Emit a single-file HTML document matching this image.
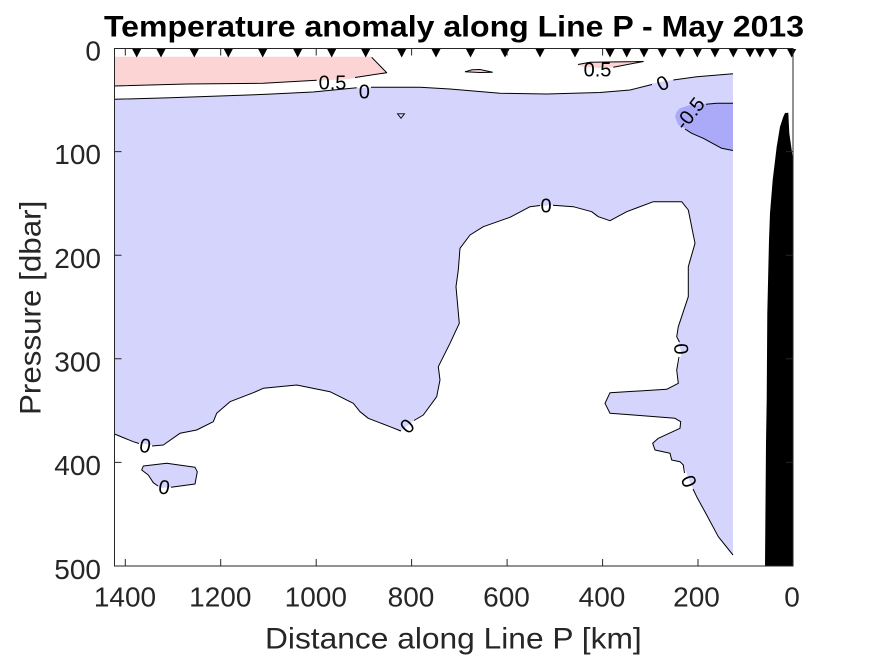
<!DOCTYPE html>
<html>
<head>
<meta charset="utf-8">
<style>
html,body{margin:0;padding:0;background:#fff;}
svg{display:block;}
text{font-family:"Liberation Sans",Arial,sans-serif;}
</style>
</head>
<body>
<svg width="875" height="656" viewBox="0 0 875 656" xmlns="http://www.w3.org/2000/svg">
<rect x="0" y="0" width="875" height="656" fill="#fff"/>

<!-- light blue main region -->
<polygon fill="#d4d4fc" points="114.5,99.3 170,97.8 266.7,94.3 313,92 356.7,87.8 371,87.3 420,87.3 450,89 500,93.3 546.7,94 600,92.5 630,90 653.3,83.3 676.7,79.3 696.7,76.7 733,73.5 733,555 718.3,536.7 706.7,515 696.7,496.7 690,482 683.3,465 680,461.7 671.7,460 670,453.3 655,450 652.7,443.3 658.3,438.3 680,428.3 680.7,421.7 675,418.3 633.3,415 610,413.3 605,403.3 610,392.7 666.7,389.3 678.3,383.3 676.7,370 681.7,353.3 676.7,336.7 678.3,326.7 688.3,296.7 688.3,266.7 695,243.3 688.3,210 681.7,201.7 653.3,201.7 626.7,211.7 610,220.7 598.3,216.7 591.7,211.7 573.3,206.7 553.3,205 530,206.7 510,217.3 483.3,226.7 470,235 460,248.3 458.3,270 456,286.7 459.3,323.3 450,343.3 438.3,366.7 440,380 436.7,396.7 423.3,415 416.7,418.3 400,431.7 390,426.7 368.3,418.3 360,411.7 353.3,403.3 330,391.7 296.7,385 263.3,388.3 253.3,392.7 230,401.7 216.7,413.3 213.3,421.7 196.7,430 180,433.3 163.3,445 156.7,446 133.3,441.7 114.5,434"/>

<!-- island -->
<polygon fill="#d4d4fc" points="141.7,470 143.3,466 166.7,463.3 195,467.3 197.3,471.7 195,484 170,487.3 160,488 153.3,482.7 148.3,475"/>

<!-- dark blue -0.5 region -->
<polygon fill="#aaaaf9" points="675,116.7 676.7,111.7 680,108.3 690,105 706.7,104 716.7,103.3 733,103.3 733,150.5 721.7,148.3 703.3,138.3 691.7,133.3 685,128.3 678.3,125"/>

<!-- pink regions -->
<polygon fill="#fdd4d4" points="114.5,56.7 371.7,56.7 386.7,72.7 346.7,79.3 313.3,80.7 263.3,83.3 170,84 114.5,86"/>
<polygon fill="#fdd4d4" points="576.7,65 590,62.5 643.3,61.5 613.3,67.3 600,68 585,67"/>
<polygon fill="#fdd4d4" stroke="#000" stroke-width="1" points="465,71.8 472,69.8 480,69.5 492.7,72.2 480,72.5"/>

<!-- black bathymetry wedge -->
<polygon fill="#000" points="785,113 788.3,112.7 789.3,133.3 791.7,150 793,160 793,566 765,566 766,443 766.7,400 767.3,313.3 769,240 770,213.3 772.7,180 776.7,146.7 780,126.7 783.3,116.7"/>

<!-- contour lines -->
<g fill="none" stroke="#000" stroke-width="1" stroke-linejoin="round">
<polyline points="114.5,99.3 170,97.8 266.7,94.3 313,92 356.7,87.8"/>
<polyline points="371,87.3 420,87.3 450,89 500,93.3 546.7,94 600,92.5 630,90 652,84.5"/>
<polyline points="673.3,80 696.7,76.7 733,73.8"/>

<polyline points="733,555 718.3,536.7 706.7,515 696.7,496.7 693,489"/>
<polyline points="684.5,473 683.3,465 680,461.7 671.7,460 670,453.3 655,450 652.7,443.3 658.3,438.3 680,428.3 680.7,421.7 675,418.3 633.3,415 610,413.3 605,403.3 610,392.7 666.7,389.3 678.3,383.3 676.7,370 679,357"/>
<polyline points="679.5,342 676.7,336.7 678.3,326.7 688.3,296.7 688.3,266.7 695,243.3 688.3,210 681.7,201.7 653.3,201.7 626.7,211.7 610,220.7 598.3,216.7 591.7,211.7 573.3,206.7 553,205.2"/>
<polyline points="540,205.5 530,206.7 510,217.3 483.3,226.7 470,235 460,248.3 458.3,270 456,286.7 459.3,323.3 450,343.3 438.3,366.7 440,380 436.7,396.7 423.3,415 414,420.5"/>
<polyline points="401,431 390,426.7 368.3,418.3 360,411.7 353.3,403.3 330,391.7 296.7,385 263.3,388.3 253.3,392.7 230,401.7 216.7,413.3 213.3,421.7 196.7,430 180,433.3 163.3,445 152,446"/>
<polyline points="139,443.5 133.3,441.7 114.5,434"/>

<polyline points="158,486 153.3,482.7 148.3,475 141.7,470 143.3,466 166.7,463.3 195,467.3 197.3,471.7 195,484 171,487.2"/>

<polyline points="371.7,57.3 386.7,72.7 355,77.5"/>
<polyline points="316.7,80.2 263.3,83.3 186.7,84 114.5,86"/>

<polyline points="613.3,67.3 643.3,61.5 590,62.3 578,64.5"/>

<polyline points="706,104.2 716.7,103.3 733,103.3"/>
<polyline points="685,129 691.7,133.3 703.3,138.3 721.7,148.3 733,150.5"/>
</g>

<!-- small outlined triangle -->
<polygon fill="#d4d4fc" stroke="#000" stroke-width="0.9" points="397.5,113.8 404.5,113.8 401,118.3"/>

<!-- contour labels -->
<g font-size="20" fill="#000" text-anchor="middle">
<text x="332.5" y="89.5">0.5</text>
<text x="364.3" y="98.3">0</text>
<text x="597.5" y="76.7">0.5</text>
<text x="546" y="212.7">0</text>
<text transform="translate(663,84) rotate(-25)" dominant-baseline="central">0</text>
<text transform="translate(680.3,349) rotate(85)" dominant-baseline="central">0</text>
<text transform="translate(688,481.7) rotate(68)" dominant-baseline="central">0</text>
<text transform="translate(407.8,426.7) rotate(-45)" dominant-baseline="central">0</text>
<text transform="translate(145,446.5) rotate(10)" dominant-baseline="central">0</text>
<text transform="translate(164,488) rotate(10)" dominant-baseline="central">0</text>
<text transform="translate(690.5,114) rotate(-52)" dominant-baseline="central">-0.5</text>
</g>

<!-- station triangles -->
<g fill="#000">
<polygon points="132.2,49 141.2,49 136.7,57.5"/>
<polygon points="156.5,49 165.5,49 161,57.5"/>
<polygon points="189.8,49 198.8,49 194.3,57.5"/>
<polygon points="223.8,49 232.8,49 228.3,57.5"/>
<polygon points="258.2,49 267.2,49 262.7,57.5"/>
<polygon points="293.2,49 302.2,49 297.7,57.5"/>
<polygon points="327.2,49 336.2,49 331.7,57.5"/>
<polygon points="361.2,49 370.2,49 365.7,57.5"/>
<polygon points="397.2,49 406.2,49 401.7,57.5"/>
<polygon points="431.5,49 440.5,49 436,57.5"/>
<polygon points="466,49 475,49 470.5,57.5"/>
<polygon points="500.5,49 509.5,49 505,57.5"/>
<polygon points="535.5,49 544.5,49 540,57.5"/>
<polygon points="570.5,49 579.5,49 575,57.5"/>
<polygon points="605.5,49 614.5,49 610,57.5"/>
<polygon points="622.2,49 631.2,49 626.7,57.5"/>
<polygon points="639.5,49 648.5,49 644,57.5"/>
<polygon points="657.8,49 666.8,49 662.3,57.5"/>
<polygon points="675.5,49 684.5,49 680,57.5"/>
<polygon points="692.8,49 701.8,49 697.3,57.5"/>
<polygon points="710.5,49 719.5,49 715,57.5"/>
<polygon points="728.8,49 737.8,49 733.3,57.5"/>
<polygon points="745.5,49 754.5,49 750,57.5"/>
<polygon points="755.5,49 764.5,49 760,57.5"/>
<polygon points="768.2,49 777.2,49 772.7,57.5"/>
<polygon points="787.2,49 796.2,49 791.7,57.5"/>
</g>

<!-- axes box and ticks -->
<g stroke="#262626" stroke-width="1" fill="none">
<rect x="114.5" y="48.5" width="678.5" height="517.5"/>
<path d="M125.3,566V559 M220.7,566V559 M316.2,566V559 M411.6,566V559 M507.1,566V559 M602.6,566V559 M698,566V559
M125.3,48.5V55.5 M220.7,48.5V55.5 M316.2,48.5V55.5 M411.6,48.5V55.5 M507.1,48.5V55.5 M602.6,48.5V55.5 M698,48.5V55.5
M114.5,151.6H121.5 M114.5,255.2H121.5 M114.5,358.8H121.5 M114.5,462.4H121.5
M793,151.6H786 M793,255.2H786 M793,358.8H786 M793,462.4H786"/>
</g>

<!-- tick labels -->
<g font-size="28" fill="#262626">
<g text-anchor="end">
<text x="101" y="60.5">0</text>
<text x="101" y="164.2">100</text>
<text x="101" y="267.9">200</text>
<text x="101" y="371.5">300</text>
<text x="101" y="475.1">400</text>
<text x="101" y="578.8">500</text>
</g>
<g text-anchor="middle">
<text x="125" y="606.7">1400</text>
<text x="220.3" y="606.7">1200</text>
<text x="315.8" y="606.7">1000</text>
<text x="411" y="606.7">800</text>
<text x="506.5" y="606.7">600</text>
<text x="602" y="606.7">400</text>
<text x="696.5" y="606.7">200</text>
<text x="792" y="606.7">0</text>
</g>
</g>

<!-- axis labels -->
<text x="265" y="648.3" font-size="30" fill="#262626" textLength="376.7" lengthAdjust="spacingAndGlyphs">Distance along Line P [km]</text>
<text transform="translate(40.7,415) rotate(-90)" x="0" y="0" font-size="30" fill="#262626" textLength="214.3" lengthAdjust="spacingAndGlyphs">Pressure [dbar]</text>

<!-- title -->
<text x="104" y="36.5" font-size="30" font-weight="bold" fill="#000" textLength="700" lengthAdjust="spacingAndGlyphs">Temperature anomaly along Line P - May 2013</text>
</svg>
</body>
</html>
